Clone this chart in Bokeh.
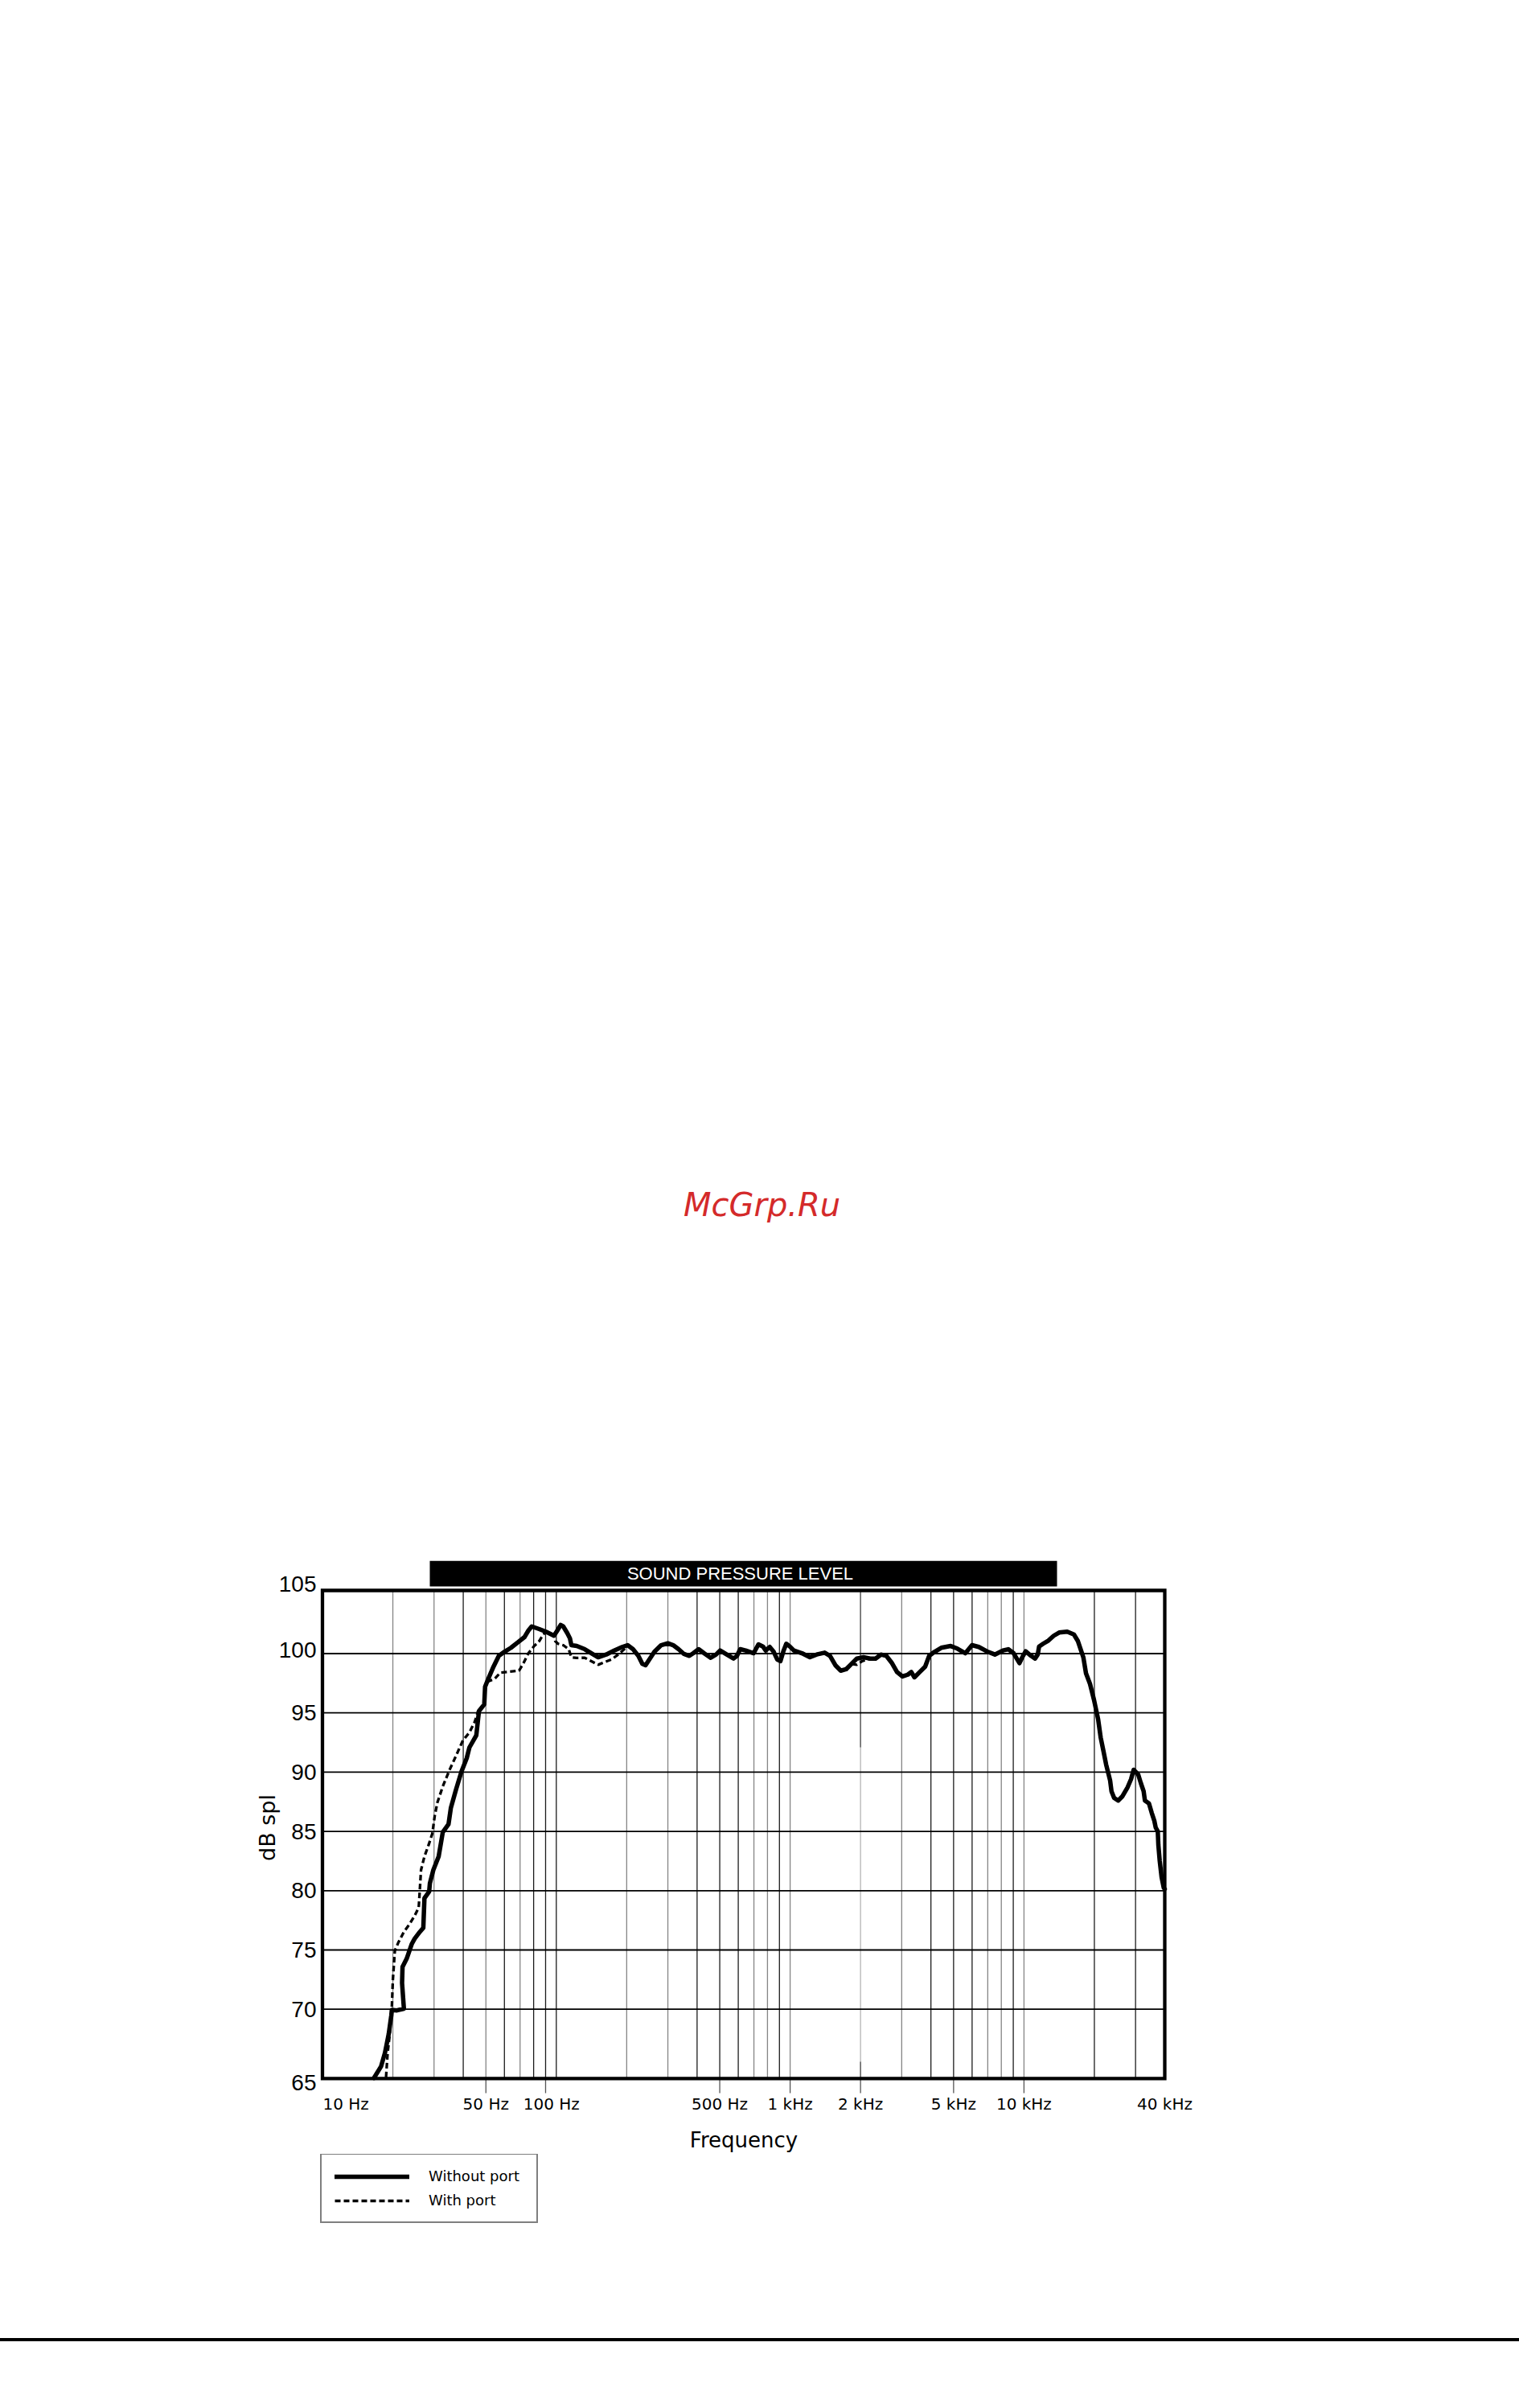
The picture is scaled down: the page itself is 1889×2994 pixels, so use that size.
from bokeh.plotting import figure
from bokeh.models import Range1d, FixedTicker, Legend, LegendItem, Div
from bokeh.layouts import column
from bokeh.embed import file_html
from bokeh.resources import INLINE
from bokeh.core.properties import value

# ---------------- data ----------------
without_port_freq = [
    16.6, 17.8, 18.5, 19.2, 19.7, 19.8, 20.8, 22.3, 21.9, 22.0,
    22.9, 24.1, 24.8, 26.1, 27.0, 27.3, 28.6, 28.8, 29.8, 31.4,
    32.7, 34.6, 35.4, 37.3, 39.3, 41.4, 42.5, 45.5, 46.7, 49.2,
    49.6, 51.2, 53.9, 56.8, 60.0, 64.0, 68.4, 73.1, 76.0, 78.5,
    84.5, 90.2, 97.7, 100.3, 104.4, 107.1, 111.4, 114.4, 116.0, 122.3,
    132.3, 141.3, 151.0, 163.4, 176.8, 191.4, 201.8, 212.8, 224.3, 233.3,
    240.8, 249.4, 262.7, 280.8, 299.9, 316.2, 333.3, 351.4, 370.6, 385.5,
    406.2, 428.3, 457.3, 482.3, 501.8, 535.8, 572.7, 592.5, 611.5, 644.9,
    698.2, 731.9, 765.1, 786.0, 817.8, 850.7, 880.2, 908.7, 937.9, 962.7,
    996.8, 1037, 1123, 1215, 1298, 1405, 1481, 1561, 1646, 1735,
    1828, 1928, 2059, 2201, 2319, 2445, 2578, 2716, 2864, 3021,
    3183, 3296, 3401, 3584, 3779, 3932, 4146, 4428, 4858, 5187,
    5616, 5995, 6408, 6937, 7508, 8127, 8564, 9029, 9566, 9906,
    10167, 10722, 11156, 11450, 11606, 12074, 12721, 13414, 14143, 15311,
    16354, 17011, 17942, 18415, 19161, 19935, 20740, 21288, 21869, 22450,
    23357, 23672, 24299, 25281, 26302, 27733, 28693, 29447, 30807, 31623,
    32487, 32900, 34230, 35164, 36093, 36587, 37345, 37552, 38066, 38764,
    39603, 40000,
]
without_port_db = [
    64.2, 65.17, 66.31, 67.90, 69.48, 69.94, 69.90, 70.05, 72.21, 73.57,
    74.25, 75.51, 75.96, 76.53, 76.87, 79.37, 79.93, 80.62, 81.75, 82.89,
    84.93, 85.61, 86.97, 88.57, 90.04, 91.18, 92.08, 93.11, 95.15, 95.72,
    97.20, 97.88, 98.90, 99.81, 100.15, 100.49, 100.94, 101.39, 101.95, 102.29,
    102.07, 101.85, 101.51, 101.85, 102.41, 102.29, 101.73, 101.28, 100.71, 100.64,
    100.37, 100.03, 99.69, 99.92, 100.26, 100.56, 100.71, 100.37, 99.81, 99.13,
    99.02, 99.47, 100.15, 100.71, 100.87, 100.71, 100.37, 99.97, 99.81, 100.03,
    100.37, 100.03, 99.65, 99.92, 100.26, 99.92, 99.58, 99.81, 100.37, 100.26,
    100.03, 100.78, 100.60, 100.26, 100.56, 100.15, 99.51, 99.36, 100.26, 100.83,
    100.60, 100.26, 100.03, 99.69, 99.92, 100.08, 99.81, 99.02, 98.56, 98.68,
    99.13, 99.58, 99.69, 99.58, 99.58, 99.92, 99.81, 99.24, 98.45, 98.07,
    98.22, 98.45, 98.00, 98.45, 98.90, 99.81, 100.15, 100.49, 100.64, 100.42,
    100.03, 100.71, 100.56, 100.19, 99.92, 100.26, 100.37, 100.03, 99.20, 99.81,
    100.19, 99.81, 99.58, 99.92, 100.60, 100.83, 101.10, 101.51, 101.78, 101.85,
    101.61, 101.05, 99.69, 98.34, 97.44, 96.08, 94.49, 92.91, 91.78, 90.65,
    89.29, 88.39, 87.82, 87.60, 87.94, 88.72, 89.40, 90.20, 89.79, 89.06,
    88.39, 87.60, 87.37, 86.58, 85.90, 85.33, 85.0, 83.87, 82.51, 81.15,
    80.24, 80.14,
]

# "With port": where it leaves the solid curve (low end and around 2 kHz)
with_port_low_freq = [
    18.7, 19.0, 19.4, 19.8, 20.0, 20.4, 21.1, 22.3, 23.5, 24.8,
    25.8, 26.1, 26.4, 27.3, 28.5, 29.5, 30.2, 31.0, 32.7, 34.9,
    37.3, 39.8, 42.5, 44.8, 46.3, 49.2, 49.6, 51.2, 54.6, 57.6,
    61.5, 69.3, 72.1, 76.0, 80.1, 84.5, 87.9, 90.2, 97.7, 99.0,
    101.6, 107.1, 113.0, 116.0, 122.3, 132.3, 141.3, 151.0, 161.3, 172.3,
    184.0, 196.7, 201.8,
]
with_port_low_db = [
    64.26, 66.31, 67.90, 70.17, 72.44, 74.94, 75.62, 76.53, 77.14, 77.89,
    78.58, 80.16, 81.75, 82.89, 83.91, 84.82, 86.30, 87.43, 88.79, 90.16,
    91.40, 92.65, 93.34, 94.25, 95.15, 95.72, 97.20, 97.66, 97.88, 98.39,
    98.45, 98.56, 99.13, 100.03, 100.60, 101.05, 101.61, 101.85, 101.51, 101.05,
    100.83, 100.71, 100.37, 99.69, 99.63, 99.65, 99.36, 99.06, 99.29, 99.51,
    99.92, 100.42, 100.71,
]
with_port_2k_freq = [1828, 1928, 2033, 2142, 2258]
with_port_2k_db = [99.13, 99.06, 99.36, 99.51, 99.58]

series_names = ["Without port", "With port"]
x_tick_labels = ["10 Hz", "50 Hz", "100 Hz", "500 Hz", "1 kHz", "2 kHz", "5 kHz", "10 kHz", "40 kHz"]
y_tick_labels = ["65", "70", "75", "80", "85", "90", "95", "100", "105"]
y_grid_values = [70, 75, 80, 85, 90, 95, 100]
x_grid_values = [20, 30, 40, 50, 60, 70, 80, 90, 100,
                 200, 300, 400, 500, 600, 700, 800, 900, 1000,
                 2000, 3000, 4000, 5000, 6000, 7000, 8000, 9000, 10000,
                 20000, 30000]
x_tick_mark_values = [50, 90, 500, 1000, 2000, 5000, 10000]
f_min, f_max = 10, 40000

# with-port curve = its own points where it differs, the shared curve elsewhere
wp_freq, wp_db = list(with_port_low_freq), list(with_port_low_db)
for f, d in zip(without_port_freq, without_port_db):
    if with_port_low_freq[-1] < f < with_port_2k_freq[0]:
        wp_freq.append(f); wp_db.append(d)
wp_freq += with_port_2k_freq
wp_db += with_port_2k_db
for f, d in zip(without_port_freq, without_port_db):
    if f > with_port_2k_freq[-1]:
        wp_freq.append(f); wp_db.append(d)

# ---------------- layout (page pixels) ----------------
W = 1889
X10_PX, PX_PER_DEC = 400.5, 290.8      # 10 Hz position, pixels per decade
Y100_PX, PX_PER_DB = 2055.5, 14.74     # 100 dB position, pixels per dB
FRAME_L, FRAME_R, FRAME_T, FRAME_B = 396, 1453, 1940, 2604
BORDER_T, BORDER_B = 1977, 2583.8
CHART_BOTTOM = 2678
LEGEND_BOX_L, LEGEND_BOX_B = 398, 2764
RULE_T, RULE_H = 2907, 4

SOLID = dict(line_color="black", line_width=5.5, line_join="round", line_cap="round")
DASHED = dict(line_color="black", line_width=3.3, line_dash="7 4")


def fx(px):
    return 10 ** (1 + (px - X10_PX) / PX_PER_DEC)


def fy(py):
    return 100 - (py - Y100_PX) / PX_PER_DB


# ---- top area with the watermark ----
wm_html = ('<div style="position:relative; left:850px; top:1478px; '
           'font-family:\'DejaVu Sans\'; font-style:italic; font-size:40px; '
           'line-height:40px; color:#d42a2a; white-space:nowrap;">McGrp.Ru</div>')
top = Div(text=wm_html, width=W, height=FRAME_T, styles={"margin": "0", "padding": "0"})

# ---- chart ----
p = figure(frame_width=FRAME_R - FRAME_L, frame_height=FRAME_B - FRAME_T, x_axis_type="log",
           x_range=Range1d(fx(FRAME_L), fx(FRAME_R)),
           y_range=Range1d(fy(FRAME_B), fy(FRAME_T)),
           output_backend="svg", toolbar_location=None, title=None,
           min_border_left=FRAME_L, min_border_right=W - FRAME_R,
           min_border_top=0, min_border_bottom=CHART_BOTTOM - FRAME_B)
p.outline_line_color = None
p.xgrid.visible = False
p.ygrid.visible = False
p.background_fill_color = "white"
p.border_fill_color = "white"

y_lo, y_hi = fy(BORDER_B), fy(BORDER_T)
stub_lo = fy(2602)

dark, grey = "#1c1c1c", "#858585"
grid_colors = [grey, grey, dark, grey, dark, grey, dark, dark, dark,
               grey, grey, dark, dark, dark, grey, grey, dark, grey,
               "#b4b4b4", grey, dark, dark, dark, grey, grey, dark, grey,
               dark, dark]
p.segment(x0=x_grid_values, x1=x_grid_values, y0=[y_lo] * len(x_grid_values),
          y1=[y_hi] * len(x_grid_values), line_color=grid_colors, line_width=1.3)
p.segment(x0=[2000, 2000], x1=[2000, 2000], y0=[y_hi, fy(2563)], y1=[fy(2172), y_lo],
          line_color="#555555", line_width=1.3)
p.segment(x0=[f_min] * len(y_grid_values), x1=[f_max] * len(y_grid_values),
          y0=y_grid_values, y1=y_grid_values, line_color="black", line_width=1.8)
p.segment(x0=x_tick_mark_values, x1=x_tick_mark_values,
          y0=[y_lo] * len(x_tick_mark_values), y1=[stub_lo] * len(x_tick_mark_values),
          line_color="#555555", line_width=1.3)

p.line(wp_freq, wp_db, **DASHED)
p.line(without_port_freq, without_port_db, **SOLID)

p.quad(left=[f_min], right=[f_max], bottom=[y_lo], top=[y_hi], fill_color=None,
       line_color="black", line_width=4.3, line_join="miter")

# title bar
p.quad(left=[fx(534)], right=[fx(1314)], bottom=[fy(1972)], top=[fy(1940)],
       fill_color="black", line_color=None)
p.text(x=[fx(920)], y=[fy(1955.5)], text=["SOUND PRESSURE LEVEL"], text_color="white",
       text_align="center", text_baseline="alphabetic",
       text_font=value("Liberation Sans"), text_font_size="22px")

x_label_pos = [fx(429.7), 50, fx(685.3), 500, 1000, 2000, 5000, 10000, 40000]
xa = p.xaxis[0]
xa.ticker = FixedTicker(ticks=x_label_pos)
xa.major_label_overrides = dict(zip(x_label_pos, x_tick_labels))
xa.axis_line_color = None
xa.major_tick_line_color = None
xa.minor_tick_line_color = None
xa.major_tick_out = 0
xa.major_tick_in = 0
xa.major_label_standoff = -1
xa.major_label_text_font = "DejaVu Sans"
xa.major_label_text_font_size = "20px"
xa.major_label_text_color = "black"
xa.axis_label = "Frequency"
xa.axis_label_text_font = "DejaVu Sans"
xa.axis_label_text_font_size = "26px"
xa.axis_label_text_font_style = "normal"
xa.axis_label_text_color = "black"
xa.axis_label_standoff = 15

y_label_pos = [fy(2588.5), 70, 75, 80, 85, 90, 95, fy(2050.7), fy(1969)]
ya = p.yaxis[0]
ya.ticker = FixedTicker(ticks=y_label_pos)
ya.major_label_overrides = dict(zip(y_label_pos, y_tick_labels))
ya.axis_line_color = None
ya.major_tick_line_color = None
ya.minor_tick_line_color = None
ya.major_tick_out = 0
ya.major_tick_in = 0
ya.major_label_standoff = 3
ya.major_label_text_font = "Liberation Sans"
ya.major_label_text_font_size = "28px"
ya.major_label_text_color = "black"
ya.axis_label = "dB spl"
ya.axis_label_text_font = "DejaVu Sans"
ya.axis_label_text_font_size = "27px"
ya.axis_label_text_font_style = "normal"
ya.axis_label_text_color = "black"
ya.axis_label_standoff = -4

# ---- legend strip (same column geometry as the chart) ----
LEG_H = RULE_T - CHART_BOTTOM
lf = figure(frame_width=FRAME_R - FRAME_L, frame_height=LEG_H,
            x_range=Range1d(0, 1), y_range=Range1d(0, 1),
            output_backend="svg", toolbar_location=None, title=None,
            x_axis_location=None, y_axis_location=None,
            min_border_left=FRAME_L, min_border_right=W - FRAME_R,
            min_border_top=0, min_border_bottom=0)
lf.outline_line_color = None
lf.grid.visible = False
lf.background_fill_color = "white"
lf.border_fill_color = "white"
# legend keys: same line styles as the chart's two series (no visible data of their own)
nan = float("nan")
key_wo = lf.line(x=[nan], y=[nan], **SOLID)
key_wp = lf.line(x=[nan], y=[nan], **DASHED)
legend = Legend(items=[LegendItem(label=series_names[0], renderers=[key_wo]),
                       LegendItem(label=series_names[1], renderers=[key_wp])],
                location=(LEGEND_BOX_L - FRAME_L, RULE_T - LEGEND_BOX_B), margin=0,
                padding=16, spacing=9,
                glyph_width=93, glyph_height=20, label_height=20, label_width=118,
                label_standoff=24, border_line_color="black", border_line_width=2.2,
                background_fill_color="white", background_fill_alpha=1,
                label_text_font="DejaVu Sans", label_text_font_size="18px",
                label_text_color="black")
lf.add_layout(legend)

# ---- bottom rule ----
rule = Div(text="", width=W, height=RULE_H,
           styles={"background-color": "black", "margin": "0", "padding": "0"})

layout = column(top, p, lf, rule, spacing=0)
open("out.html", "w").write(file_html(layout, INLINE))
